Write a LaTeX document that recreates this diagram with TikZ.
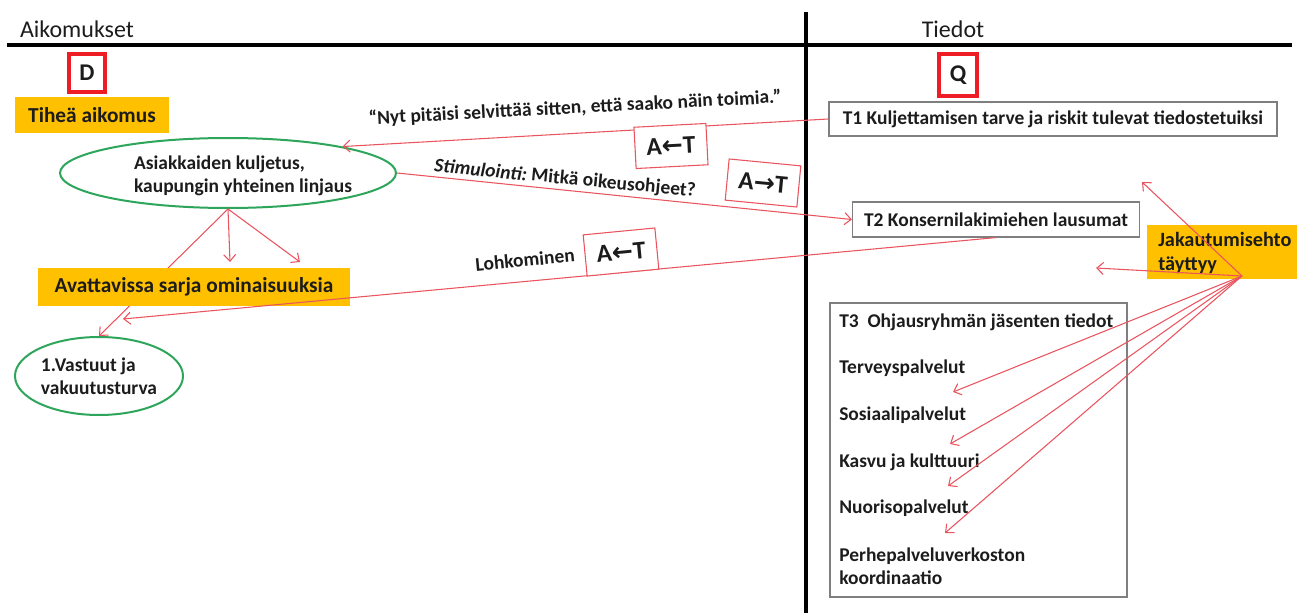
\documentclass[tikz,border=0pt]{standalone}
\usepackage{fontspec}
\setmainfont{Carlito}
\newfontfamily\symfont{DejaVu Sans}
\usetikzlibrary{arrows.meta,shapes.geometric}
\definecolor{linkred}{HTML}{E9545E}
\definecolor{boxred}{HTML}{EE1C25}
\definecolor{amber}{HTML}{FFC000}
\definecolor{ellgreen}{HTML}{2DA55A}
\definecolor{boxgray}{HTML}{7F7F7F}
\definecolor{ink}{HTML}{1C1C1C}
\begin{document}
\begin{tikzpicture}[x=0.75pt,y=-0.75pt,
  every node/.style={text=ink},
  bold/.style={font=\fontsize{14.6}{17.5}\selectfont\bfseries},
  heading/.style={font=\fontsize{18}{21}\selectfont},
  amberbox/.style={bold,fill=amber,inner sep=0pt,font=\fontsize{16}{19}\selectfont\bfseries},
  graybox/.style={bold,draw=boxgray,line width=1.1pt,inner sep=0pt},
  letterbox/.style={draw=boxred,line width=3pt,inner sep=0pt,
    font=\fontsize{18}{21}\selectfont\bfseries},
  dirbox/.style={draw=linkred,line width=0.8pt,fill=white,inner sep=0pt,
    minimum width=54pt,minimum height=31pt,font=\fontsize{19}{22}\selectfont\bfseries},
  intent/.style={ellipse,draw=ellgreen,line width=1.5pt,inner sep=0pt},
  link/.style={draw=linkred,line width=0.8pt,-{Straight Barb[length=5pt,width=9pt]}},
  plain/.style={inner sep=0pt},
]
\useasboundingbox (0,0) rectangle (1298,613);

% column frame
\draw[line width=2.3pt] (7,45) -- (1292,45);
\draw[line width=2.3pt] (806,12) -- (806,613);
\node[heading,plain] (hA) at (77,29) {Aikomukset};
\node[heading,plain] (hT) at (953,29) {Tiedot};

% letter markers
\node[letterbox,minimum width=27pt,minimum height=28.5pt] (D) at (87,73) {D};
\node[letterbox,minimum width=29pt,minimum height=31pt] (Q) at (958,75) {Q};

% intentions side
\node[amberbox,minimum width=116pt,minimum height=27pt] (dense) at (92,115) {Tiheä aikomus};
\node[intent,minimum width=252pt,minimum height=52.5pt] (e1) at (228,173) {};
\node[bold,plain,align=left] (e1t) at (243,176) {Asiakkaiden kuljetus,\\kaupungin yhteinen linjaus};
\node[intent,minimum width=126pt,minimum height=58.5pt,bold,align=left] (e2) at (99,376)
  {1.Vastuut ja\\vakuutusturva};

% arrow passing behind the amber bar
\draw[link] (e1.south) -- (e2.north);
\node[amberbox,minimum width=234pt,minimum height=28.5pt] (av) at (194,287)
  {Avattavissa sarja ominaisuuksia};
\coordinate (a1) at (230,262);
\coordinate (a2) at (300,262);
\draw[link] (e1.south) -- (a1);
\draw[link] (e1.south) -- (a2);

% information side
\node[graybox,minimum width=336pt,minimum height=25.5pt] (t1) at (1053,119)
  {T1 Kuljettamisen tarve ja riskit tulevat tiedostetuiksi};
\node[graybox,minimum width=215pt,minimum height=26pt] (t2) at (996,219.5)
  {T2 Konsernilakimiehen lausumat};
\node[draw=boxgray,line width=1.1pt,minimum width=222.75pt,minimum height=220.5pt,plain]
  (t3) at (978.5,450) {};
\node[bold,plain,anchor=west] (t3a) at (839,322) {T3\ \ Ohjausryhmän jäsenten tiedot};
\node[bold,plain,anchor=west] (t3b) at (839,368) {Terveyspalvelut};
\node[bold,plain,anchor=west] (t3c) at (839,415) {Sosiaalipalvelut};
\node[bold,plain,anchor=west] (t3d) at (839,462) {Kasvu ja kulttuuri};
\node[bold,plain,anchor=west] (t3e) at (839,508) {Nuorisopalvelut};
\node[bold,plain,anchor=west,align=left] (t3f) at (839,566)
  {Perhepalveluverkoston\\koordinaatio};
\node[amberbox,minimum width=112pt,minimum height=41pt] (jk) at (1222,252) {};
\node[plain,anchor=west,align=left,font=\fontsize{15.2}{17.5}\selectfont\bfseries]
  (jkt) at (1158,253) {Jakautumisehto\\täyttyy};

% exchanges between the columns
\draw[link] (t1.west) -- (e1.13);
\node[bold,plain,rotate=3] (q1) at (575,108)
  {“Nyt pitäisi selvittää sitten, että saako näin toimia.”};
\node[dirbox,rotate=3] (d1) at (671,146) {A{\symfont ←}T};

\draw[link] (e1.east) -- (t2.west);
\node[bold,plain,rotate=-5.4] (q2) at (565,179)
  {\itshape Stimulointi:\upshape\ Mitkä oikeusohjeet?};
\node[dirbox,rotate=-5.5] (d2) at (763,183) {A{\symfont →}T};

\coordinate (lk) at (123,319);
\draw[link] (t2.south) -- (lk);
\node[bold,plain,rotate=5.5] (q3) at (525,260) {Lohkominen};
\node[dirbox,rotate=5.5] (d3) at (621,252) {A{\symfont ←}T};

% fan of arrows from the condition box
\coordinate (jp) at (1242,276);
\coordinate (j1) at (1142,182);
\coordinate (j2) at (1096,268);
\coordinate (j3) at (953,392);
\coordinate (j4) at (950,444);
\coordinate (j5) at (948,486);
\coordinate (j6) at (945,533);
\foreach \k in {1,...,6} \draw[link] (jp) -- (j\k);
\end{tikzpicture}
\end{document}
